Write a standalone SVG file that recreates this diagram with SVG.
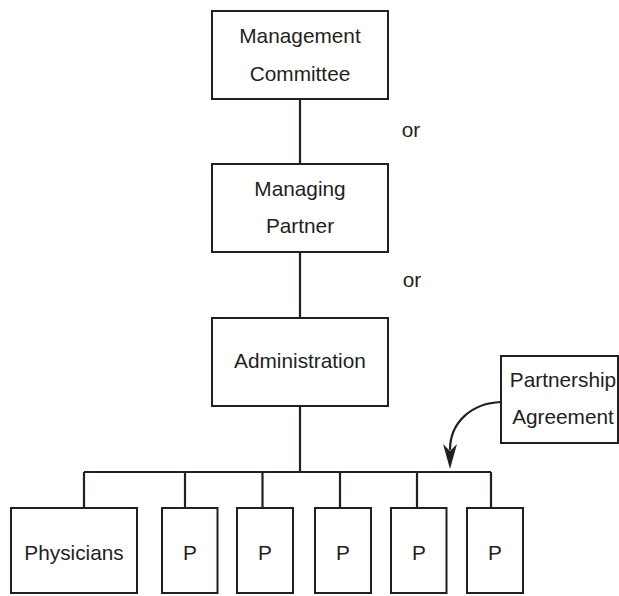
<svg xmlns="http://www.w3.org/2000/svg" width="619" height="596" viewBox="0 0 619 596">
<style>
.box{fill:#fff;stroke:#231f20;stroke-width:2}
.ln{fill:none;stroke:#231f20;stroke-width:2.2}
text{font-family:"Liberation Sans",Arial,sans-serif;font-size:20.8px;fill:#231f20;text-anchor:middle}
</style>
<rect width="619" height="596" fill="#fff"/>
<g id="connectors">
<path class="ln" d="M300,99V164M300,252V318M300,406V472M84,472H491M84,472V508M185,472V508M262.5,472V508M340,472V508M417,472V508M491,472V508"/>
<path class="ln" d="M501,402C472,403 450,422 450,450"/>
<polygon points="450,469 443,444 450,451 457,444" fill="#231f20"/>
</g>
<g id="mgmt"><rect class="box" x="212" y="11" width="176" height="88"/><text x="300" y="43">Management</text><text x="300" y="81">Committee</text></g>
<g id="or1"><text x="411" y="137">or</text></g>
<g id="mp"><rect class="box" x="212" y="164" width="176" height="88"/><text x="300" y="196">Managing</text><text x="300" y="233">Partner</text></g>
<g id="or2"><text x="412" y="287">or</text></g>
<g id="admin"><rect class="box" x="212" y="318" width="176" height="88"/><text x="300" y="368">Administration</text></g>
<g id="pa"><rect class="box" x="501" y="356" width="117" height="87"/><text x="563" y="387">Partnership</text><text x="563" y="424">Agreement</text></g>
<g id="phys"><rect class="box" x="11" y="508" width="126" height="85"/><text x="74" y="560">Physicians</text></g>
<g id="p1"><rect class="box" x="162" y="508" width="55.5" height="85"/><text x="190" y="560">P</text></g>
<g id="p2"><rect class="box" x="237" y="508" width="56" height="85"/><text x="265" y="560">P</text></g>
<g id="p3"><rect class="box" x="315" y="508" width="56" height="85"/><text x="343" y="560">P</text></g>
<g id="p4"><rect class="box" x="391" y="508" width="55.5" height="85"/><text x="419" y="560">P</text></g>
<g id="p5"><rect class="box" x="467" y="508" width="56" height="85"/><text x="495" y="560">P</text></g>
</svg>
